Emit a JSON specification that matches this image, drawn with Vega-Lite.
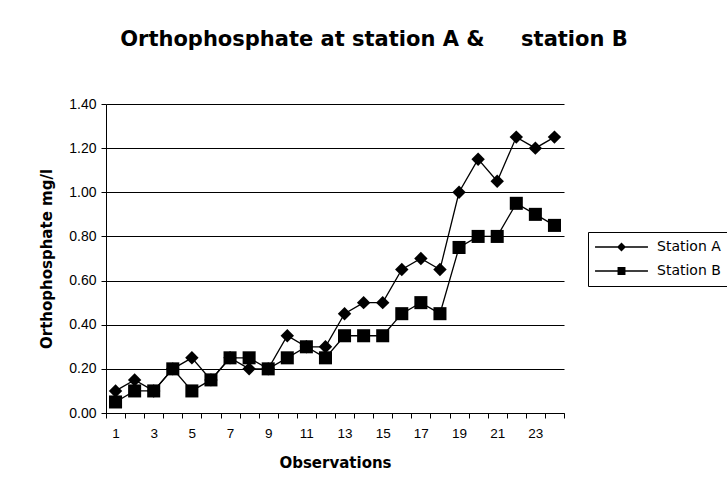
{
  "$schema": "https://vega.github.io/schema/vega-lite/v6.json",
  "width": 458,
  "height": 309,
  "autosize": "none",
  "padding": {"left": 106, "top": 104, "right": 163, "bottom": 78},
  "background": "white",
  "title": {
    "text": "Orthophosphate at station A &\u00a0\u00a0\u00a0\u00a0\u00a0station B",
    "font": "DejaVu Sans",
    "fontSize": 21,
    "fontWeight": "bold",
    "color": "black",
    "anchor": "middle",
    "dx": 39,
    "offset": 47
  },
  "config": {
    "view": {"stroke": null},
    "font": "Liberation Sans"
  },
  "data": {
    "values": [
      {"obs": 1, "station": "Station A", "value": 0.10},
      {"obs": 2, "station": "Station A", "value": 0.15},
      {"obs": 3, "station": "Station A", "value": 0.10},
      {"obs": 4, "station": "Station A", "value": 0.20},
      {"obs": 5, "station": "Station A", "value": 0.25},
      {"obs": 6, "station": "Station A", "value": 0.15},
      {"obs": 7, "station": "Station A", "value": 0.25},
      {"obs": 8, "station": "Station A", "value": 0.20},
      {"obs": 9, "station": "Station A", "value": 0.20},
      {"obs": 10, "station": "Station A", "value": 0.35},
      {"obs": 11, "station": "Station A", "value": 0.30},
      {"obs": 12, "station": "Station A", "value": 0.30},
      {"obs": 13, "station": "Station A", "value": 0.45},
      {"obs": 14, "station": "Station A", "value": 0.50},
      {"obs": 15, "station": "Station A", "value": 0.50},
      {"obs": 16, "station": "Station A", "value": 0.65},
      {"obs": 17, "station": "Station A", "value": 0.70},
      {"obs": 18, "station": "Station A", "value": 0.65},
      {"obs": 19, "station": "Station A", "value": 1.00},
      {"obs": 20, "station": "Station A", "value": 1.15},
      {"obs": 21, "station": "Station A", "value": 1.05},
      {"obs": 22, "station": "Station A", "value": 1.25},
      {"obs": 23, "station": "Station A", "value": 1.20},
      {"obs": 24, "station": "Station A", "value": 1.25},
      {"obs": 1, "station": "Station B", "value": 0.05},
      {"obs": 2, "station": "Station B", "value": 0.10},
      {"obs": 3, "station": "Station B", "value": 0.10},
      {"obs": 4, "station": "Station B", "value": 0.20},
      {"obs": 5, "station": "Station B", "value": 0.10},
      {"obs": 6, "station": "Station B", "value": 0.15},
      {"obs": 7, "station": "Station B", "value": 0.25},
      {"obs": 8, "station": "Station B", "value": 0.25},
      {"obs": 9, "station": "Station B", "value": 0.20},
      {"obs": 10, "station": "Station B", "value": 0.25},
      {"obs": 11, "station": "Station B", "value": 0.30},
      {"obs": 12, "station": "Station B", "value": 0.25},
      {"obs": 13, "station": "Station B", "value": 0.35},
      {"obs": 14, "station": "Station B", "value": 0.35},
      {"obs": 15, "station": "Station B", "value": 0.35},
      {"obs": 16, "station": "Station B", "value": 0.45},
      {"obs": 17, "station": "Station B", "value": 0.50},
      {"obs": 18, "station": "Station B", "value": 0.45},
      {"obs": 19, "station": "Station B", "value": 0.75},
      {"obs": 20, "station": "Station B", "value": 0.80},
      {"obs": 21, "station": "Station B", "value": 0.80},
      {"obs": 22, "station": "Station B", "value": 0.95},
      {"obs": 23, "station": "Station B", "value": 0.90},
      {"obs": 24, "station": "Station B", "value": 0.85}
    ]
  },
  "encoding": {
    "x": {
      "field": "obs",
      "type": "quantitative",
      "scale": {"domain": [0.5, 24.5], "nice": false, "zero": false},
      "axis": {
        "title": "Observations",
        "titleFont": "DejaVu Sans",
        "titleFontSize": 15,
        "titleFontWeight": "bold",
        "titleColor": "black",
        "titlePadding": 16,
        "values": [0.5,1.5,2.5,3.5,4.5,5.5,6.5,7.5,8.5,9.5,10.5,11.5,12.5,13.5,14.5,15.5,16.5,17.5,18.5,19.5,20.5,21.5,22.5,23.5,24.5],
        "labelExpr": "(datum.value + 0.5) % 2 == 1 && datum.value < 24 ? format(datum.value + 0.5, 'd') : ''",
        "labelOffset": 9.5,
        "labelFontSize": 13.5,
        "labelColor": "black",
        "labelPadding": 8,
        "labelFlush": false,
        "labelOverlap": false,
        "domainColor": "black",
        "tickColor": "black",
        "tickSize": 5,
        "grid": false
      }
    },
    "y": {
      "field": "value",
      "type": "quantitative",
      "scale": {"domain": [0, 1.4], "nice": false},
      "axis": {
        "title": "Orthophosphate mg/l",
        "titleFont": "DejaVu Sans",
        "titleFontSize": 15,
        "titleFontWeight": "bold",
        "titleColor": "black",
        "titlePadding": 14,
        "values": [0, 0.2, 0.4, 0.6, 0.8, 1.0, 1.2, 1.4],
        "format": ".2f",
        "labelFontSize": 14,
        "labelColor": "black",
        "labelPadding": 5,
        "domainColor": "black",
        "tickColor": "black",
        "tickSize": 5,
        "grid": true,
        "gridColor": "black",
        "gridOpacity": 1
      }
    }
  },
  "layer": [
    {
      "mark": {"type": "line", "color": "black", "strokeWidth": 1.3},
      "encoding": {"detail": {"field": "station"}}
    },
    {
      "mark": {"type": "point", "filled": true, "color": "black", "opacity": 1},
      "encoding": {
        "shape": {
          "field": "station",
          "type": "nominal",
          "scale": {"domain": ["Station A", "Station B"], "range": ["diamond", "square"]},
          "legend": null
        },
        "size": {
          "condition": {"test": "datum.station == 'Station A'", "value": 180},
          "value": 170
        }
      }
    },
    {
      "transform": [{"filter": "datum.obs < 0"}],
      "mark": {"type": "point", "filled": true, "color": "black", "opacity": 1},
      "encoding": {
        "shape": {
          "field": "station",
          "type": "nominal",
          "scale": {
            "domain": ["Station A", "Station B"],
            "range": [
              "M-1,-0.027L1,-0.027L1,0.027L-1,0.027ZM0,-0.17L0.17,0L0,0.17L-0.17,0Z",
              "M-1,-0.027L1,-0.027L1,0.027L-1,0.027ZM-0.15,-0.15L0.15,-0.15L0.15,0.15L-0.15,0.15Z"
            ]
          },
          "legend": {
            "title": null,
            "orient": "none",
            "legendX": 482,
            "legendY": 128,
            "strokeColor": "black",
            "fillColor": "white",
            "padding": 7,
            "rowPadding": 8,
            "clipHeight": 16,
            "labelFont": "DejaVu Sans",
            "labelFontSize": 14,
            "labelColor": "black",
            "labelOffset": 9,
            "symbolSize": 2800,
            "symbolFillColor": "black",
            "symbolStrokeColor": "black",
            "symbolStrokeWidth": 0,
            "symbolOpacity": 1
          }
        }
      }
    }
  ],
  "resolve": {"scale": {"shape": "independent"}}
}
